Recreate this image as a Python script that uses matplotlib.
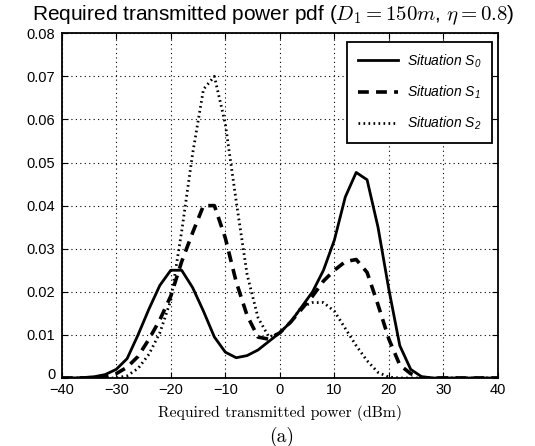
import numpy as np
import matplotlib
matplotlib.use("Agg")
import matplotlib.pyplot as plt
from matplotlib.transforms import ScaledTranslation

plt.rcParams['font.family'] = ['Liberation Sans', 'DejaVu Sans']
plt.rcParams['mathtext.fontset'] = 'custom'
plt.rcParams['mathtext.it'] = 'Liberation Sans:italic'
plt.rcParams['mathtext.rm'] = 'Liberation Sans:italic'

## Data
power = np.arange(-40, 41, 2)

s0 = [0, 0, 0.0001, 0.0003, 0.0008, 0.002, 0.0045, 0.010, 0.016, 0.0215,
      0.025, 0.025, 0.021, 0.0155, 0.0095, 0.006, 0.0047, 0.0052, 0.0065, 0.0085,
      0.0105, 0.013, 0.0165, 0.020, 0.025, 0.032, 0.042, 0.0477, 0.046, 0.035,
      0.0205, 0.0075, 0.002, 0.0003, 0, 0, 0, 0, 0, 0, 0]

s1 = [0, 0, 0, 0.0001, 0.0003, 0.001, 0.0025, 0.005, 0.009, 0.0135,
      0.019, 0.027, 0.0337, 0.040, 0.040, 0.0325, 0.0223, 0.0145, 0.0095, 0.009,
      0.0105, 0.013, 0.016, 0.019, 0.0225, 0.025, 0.027, 0.0275, 0.0245, 0.017,
      0.009, 0.003, 0.001, 0.0001, 0, 0, 0, 0, 0, 0, 0]

s2 = [0, 0, 0, 0, 0, 0, 0.0005, 0.0022, 0.0055, 0.0105,
      0.018, 0.034, 0.052, 0.067, 0.070, 0.059, 0.041, 0.024, 0.014, 0.0095,
      0.0105, 0.013, 0.0165, 0.0175, 0.0175, 0.0155, 0.0115, 0.0075, 0.004, 0.0013,
      0.0002, 0, 0, 0, 0, 0, 0, 0, 0, 0, 0]

labels = [r"Situation $S_0$", r"Situation $S_1$", r"Situation $S_2$"]

xticks = np.arange(-40, 41, 10)
yticks = np.arange(0, 0.081, 0.01)
yticklabels = ["0", "0.01", "0.02", "0.03", "0.04", "0.05", "0.06", "0.07", "0.08"]

fig = plt.figure(figsize=(5.35, 4.46), dpi=100)
ax = fig.add_axes([0.1153, 0.1525, 0.8155, 0.7729])

ax.plot(power, s0, color='black', lw=2.0, ls='-', label=labels[0])
ax.plot(power, s1, color='black', lw=2.6, ls=(0, (3, 2)), label=labels[1])
ax.plot(power, s2, color='black', lw=2.0, ls=(0, (0.6, 1.2)), label=labels[2])

ax.set_xlim(-40, 40)
ax.set_ylim(0, 0.08)
ax.set_xticks(xticks)
ax.set_xticklabels([str(t).replace('-', '\u2212') for t in xticks])
ax.set_yticks(yticks)
ax.set_yticklabels(yticklabels)
ax.tick_params(direction='in', top=True, right=True, labelsize=10.5, length=4)
ax.tick_params(axis='x', pad=3.5)
ax.tick_params(axis='y', pad=4.5)
# nudge the "0" label up a little, as in the reference
lab0 = ax.get_yticklabels()[0]
lab0.set_transform(lab0.get_transform() + ScaledTranslation(0, 3 / 72, fig.dpi_scale_trans))
for sp in ax.spines.values():
    sp.set_linewidth(1.3)
ax.grid(True, color='black', ls=(0, (1, 3)), lw=0.8)

leg = ax.legend(loc='upper right', bbox_to_anchor=(0.986, 0.975), borderaxespad=0,
                fancybox=False, edgecolor='black', framealpha=1,
                handlelength=2.9, handletextpad=0.65, labelspacing=1.0,
                borderpad=0.75, prop={'style': 'italic', 'size': 10})
leg.get_frame().set_linewidth(1.3)

fig.text(0.059, 0.955, r"Required transmitted power pdf ($D_1 = 150m$, $\eta = 0.8$)",
         fontsize=15, math_fontfamily='cm', ha='left', va='baseline')
ax.set_xlabel("Required transmitted power (dBm)", family='cmr10', fontsize=11.3, labelpad=6)
fig.text(0.527, 0.02, "(a)", family='cmr10', fontsize=14, ha='center', va='center')

fig.savefig("out.png", dpi=100)
